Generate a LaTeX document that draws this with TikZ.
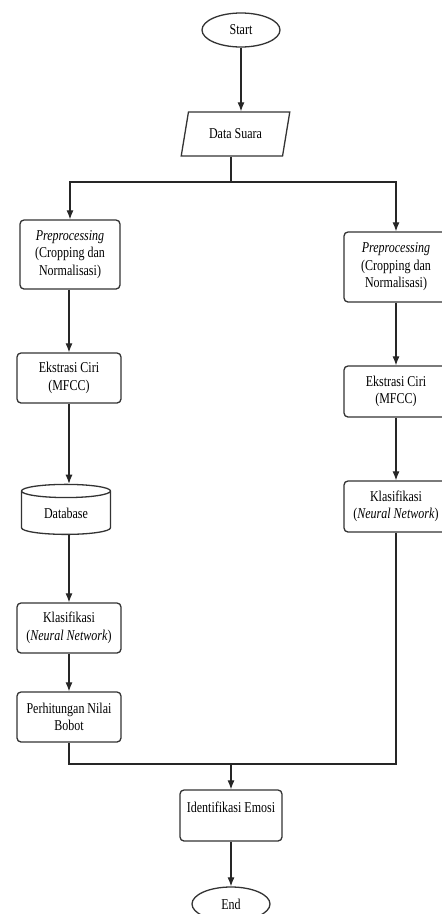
\documentclass[tikz,border=0pt]{standalone}
\usepackage{fontspec}
\setmainfont[FakeStretch=0.8]{Liberation Serif}
\usetikzlibrary{shapes.geometric,arrows.meta}

\begin{document}
\begin{tikzpicture}[x=1pt, y=-1pt,
        box/.style={rectangle, draw=black!80, line width=1.3pt, rounded corners=4pt, fill=white, align=center, inner sep=1pt, font=\fontsize{15}{17.5}\selectfont},
        ovl/.style={ellipse, draw=black!80, line width=1.3pt, fill=white, minimum width=78pt, minimum height=34pt, inner sep=0pt, font=\fontsize{15}{17.5}\selectfont},
        inp/.style={trapezium, trapezium left angle=68, trapezium right angle=112, trapezium stretches=true, draw=black!80, line width=1.3pt, fill=white, minimum width=109pt, minimum height=44pt, inner sep=0pt, font=\fontsize{15}{17.5}\selectfont},
        dbs/.style={cylinder, shape border rotate=90, aspect=0.3, draw=black!80, line width=1.3pt, fill=white, minimum width=89pt, minimum height=50pt, inner sep=0pt, font=\fontsize{15}{17.5}\selectfont},
        arr/.style={->, line width=1.1pt, draw=black!85},
        lin/.style={line width=1.1pt, draw=black!85},
        >={Latex[length=9pt, width=7pt]},
        ]
      \useasboundingbox (0,0) rectangle (442,914);

      \node[ovl] (st) at (241, 30) {Start};
      \node[inp] (ds) at (235.5, 134) {Data Suara};

      % kiri
      \node[box, minimum width=100pt, minimum height=69pt] (p1) at (70, 254.5) {\textit{Preprocessing}\\(Cropping dan\\Normalisasi)};
      \node[box, minimum width=104pt, minimum height=50pt] (e1) at (69, 378) {Ekstrasi Ciri\\(MFCC)};
      \node[dbs] (db) at (66, 513) {Database};
      \node[box, minimum width=104pt, minimum height=50pt] (k1) at (69, 628) {Klasifikasi\\(\textit{Neural Network})};
      \node[box, minimum width=104pt, minimum height=50pt] (h1) at (69, 717) {Perhitungan Nilai\\Bobot};

      % kanan
      \node[box, minimum width=104pt, minimum height=70pt] (p2) at (396, 267) {\textit{Preprocessing}\\(Cropping dan\\Normalisasi)};
      \node[box, minimum width=104pt, minimum height=51pt] (e2) at (396, 391.5) {Ekstrasi Ciri\\(MFCC)};
      \node[box, minimum width=104pt, minimum height=51pt] (k2) at (396, 506.5) {Klasifikasi\\(\textit{Neural Network})};

      \node[box, minimum width=102pt, minimum height=51pt] (id) at (231, 815.5) {Identifikasi Emosi\\\mbox{}};
      \node[ovl] (en) at (231, 904) {End};

      \coordinate (sp) at (231, 182);
      \coordinate (mg) at (231, 764);

      \draw[arr] (st.south) -- (st.south |- ds.north);
      \draw[lin] (ds.south -| sp) -- (sp);
      \draw[arr] (sp) -| (p1.north);
      \draw[arr] (sp) -| (p2.north);

      \draw[arr] (p1.south -| e1.north) -- (e1.north);
      \draw[arr] (e1.south) -- (e1.south |- db.north);
      \draw[arr] (db.south -| k1.north) -- (k1.north);
      \draw[arr] (k1.south) -- (h1.north);

      \draw[arr] (p2.south) -- (e2.north);
      \draw[arr] (e2.south) -- (k2.north);

      \draw[lin] (h1.south) |- (mg);
      \draw[lin] (k2.south) |- (mg);
      \draw[arr] (mg) -- (id.north);
      \draw[arr] (id.south) -- (en.north);
    \end{tikzpicture}
\end{document}
